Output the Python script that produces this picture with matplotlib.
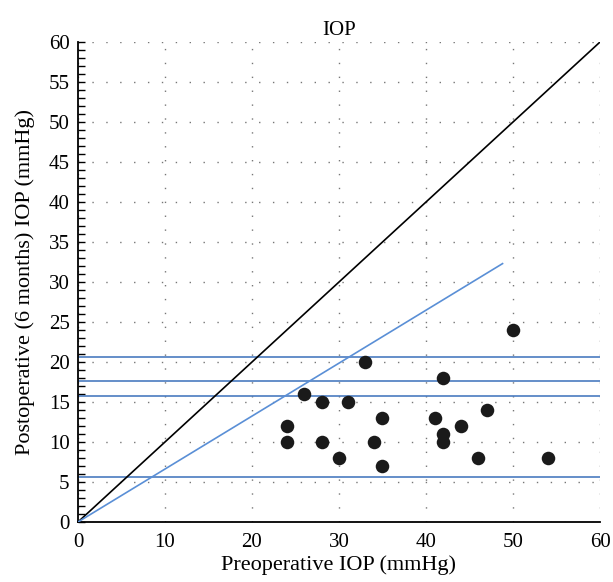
import numpy as np
import matplotlib
matplotlib.use("Agg")
from matplotlib import pyplot as plt
from matplotlib.ticker import MultipleLocator

# Scatter data (preop, postop at 6 months)
preop = [50, 33, 42, 26, 28, 31, 47, 35, 41, 24, 44, 42, 24, 28, 34, 42, 30, 46, 54, 35]
postop = [24, 20, 18, 16, 15, 15, 14, 13, 13, 12, 12, 11, 10, 10, 10, 10, 8, 8, 8, 7]

# Reference lines
hlines = [20.6, 17.6, 15.7, 5.6]
identity_x = [0, 60]
fit_x = [0, 48.8]
fit_y = [0, 32.3]

plt.rcParams['font.family'] = ['Liberation Serif', 'DejaVu Serif']

fig = plt.figure(figsize=(6.13, 5.82), dpi=100)
ax = fig.add_axes([0.1272, 0.1031, 0.8516, 0.8247])

ax.set_xlim(0, 60)
ax.set_ylim(0, 60)

ax.xaxis.set_major_locator(MultipleLocator(10))
ax.yaxis.set_major_locator(MultipleLocator(5))
ax.yaxis.set_minor_locator(MultipleLocator(1))

ax.grid(True, which='major', color='#777777', linestyle=(0, (1, 9)), linewidth=1.0)
ax.set_axisbelow(True)

blue = '#4a7cc0'
for h in hlines:
    ax.axhline(h, color=blue, linewidth=1.2, zorder=2)

ax.plot(identity_x, identity_x, color='black', linewidth=1.2, zorder=3)
ax.plot(fit_x, fit_y, color='#5a8fd6', linewidth=1.2, zorder=3)

ax.scatter(preop, postop, s=95, color='#1a1a1a', zorder=4, linewidths=0)

for side in ['top', 'right']:
    ax.spines[side].set_visible(False)
for side in ['left', 'bottom']:
    ax.spines[side].set_linewidth(1.3)

ax.tick_params(axis='y', which='both', direction='in', length=5, width=1, labelsize=15, pad=6)
ax.tick_params(axis='x', which='both', direction='in', length=0, labelsize=15, pad=8)

ax.set_title('IOP', fontsize=15, pad=5)
ax.set_xlabel('Preoperative IOP (mmHg)', fontsize=16, labelpad=2)
ax.set_ylabel('Postoperative (6 months) IOP (mmHg)', fontsize=16, labelpad=10)

plt.savefig('out.png', dpi=100)
